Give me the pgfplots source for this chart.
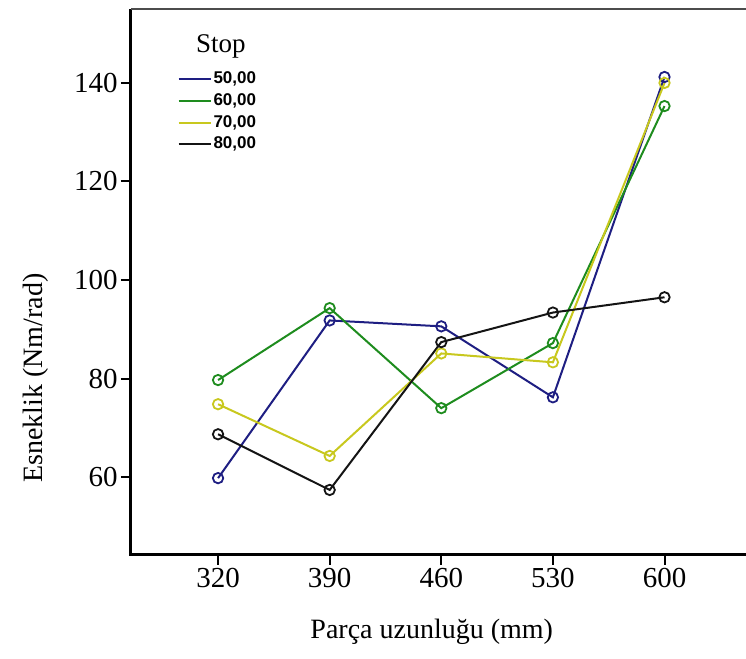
\documentclass[border=0pt]{standalone}
\usepackage{fontspec}
\setmainfont{Liberation Serif}
\newfontfamily\arialfont{Liberation Sans}
\usepackage{pgfplots}
\pgfplotsset{compat=1.18}

\definecolor{c50}{RGB}{30,30,130}
\definecolor{c60}{RGB}{30,140,30}
\definecolor{c70}{RGB}{200,200,30}
\definecolor{c80}{RGB}{20,20,20}

\begin{document}
\begin{tikzpicture}
\begin{axis}[
  scale only axis, width=307.5pt, height=273pt,
  xmin=-0.78, xmax=4.73, ymin=44.2, ymax=155,
  xtick={0,1,2,3,4}, xticklabels={320,390,460,530,600},
  ytick={60,80,100,120,140},
  axis line style={draw=none},
  tick align=outside, major tick length=5pt,
  xtick pos=bottom, ytick pos=left,
  tick style={black, line width=1pt},
  tick label style={font=\fontsize{14.5}{16}\selectfont, inner sep=1.5pt},
  /pgf/number format/assume math mode=true,
  xlabel={Parça uzunluğu (mm)}, ylabel={Esneklik (Nm/rad)},
  label style={font=\fontsize{14}{16}\selectfont},
  xlabel style={at={(axis description cs:0.489,-0.141)}, anchor=center},
  ylabel style={at={(axis description cs:-0.1545,0.324)}, anchor=center},
  legend style={draw=none, fill=none, at={(rel axis cs:0.075,0.89)}, anchor=north west,
    font=\arialfont\bfseries\fontsize{8.5}{10}\selectfont, row sep=1.5pt, inner sep=0pt,
    nodes={inner sep=1pt}},
  legend cell align=left,
  legend image code/.code={\draw[#1,mark=none] (0pt,0pt) -- (16pt,0pt);},
  every axis plot/.append style={line width=1pt, mark=o, mark size=2.6pt, mark options={line width=0.9pt}},
  clip=false,
]
\addplot[c50] coordinates {(0,59.8) (1,91.8) (2,90.6) (3,76.2) (4,141.2)};
\addlegendentry{50,00}
\addplot[c60] coordinates {(0,79.7) (1,94.3) (2,74.0) (3,87.2) (4,135.3)};
\addlegendentry{60,00}
\addplot[c70] coordinates {(0,74.8) (1,64.3) (2,85.1) (3,83.3) (4,140.0)};
\addlegendentry{70,00}
\addplot[c80] coordinates {(0,68.7) (1,57.4) (2,87.4) (3,93.4) (4,96.5)};
\addlegendentry{80,00}
\draw[line width=1.5pt] (rel axis cs:0,1) -- (rel axis cs:0,0) -- (rel axis cs:1,0);
\draw[gray!60!black, line width=1.2pt] (rel axis cs:0,1) -- (rel axis cs:1,1);
\node[font=\fontsize{13.5}{15}\selectfont] at (rel axis cs:0.146,0.932) {Stop};
\end{axis}
\pgfresetboundingbox
\path[use as bounding box] ([xshift=-65.5pt,yshift=-52pt]current axis.south west) rectangle ([yshift=4.5pt]current axis.north east);
\end{tikzpicture}
\end{document}
